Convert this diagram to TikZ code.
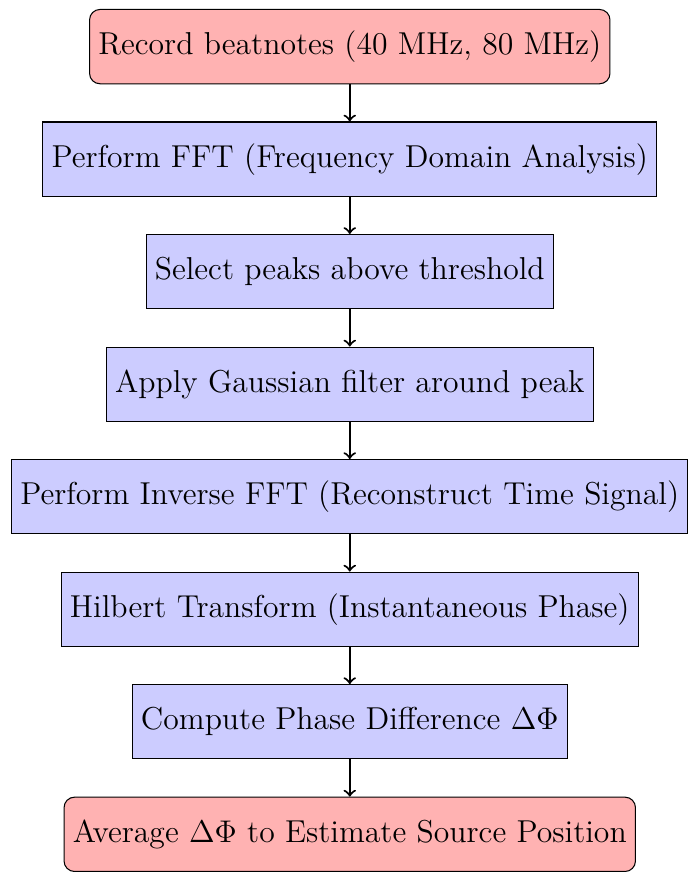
\documentclass[tikz,border=0pt]{standalone}
\usetikzlibrary{positioning}
\begin{document}
\begin{tikzpicture}[
  node distance=0.5cm,
  box/.style={draw, minimum height=1cm, font=\fontsize{12.13pt}{14.5pt}\selectfont, align=center},
  endbox/.style={box, rounded corners, fill=red!30},
  procbox/.style={box, fill=blue!20},
  arr/.style={->, thick}
]
\node[endbox] (n1) at (0,0) {Record beatnotes (40 MHz, 80 MHz)};
\node[procbox, below=of n1] (n2) {Perform FFT (Frequency Domain Analysis)};
\node[procbox, below=of n2] (n3) {Select peaks above threshold};
\node[procbox, below=of n3] (n4) {Apply Gaussian filter around peak};
\node[procbox, below=of n4] (n5) {Perform Inverse FFT (Reconstruct Time Signal)};
\node[procbox, below=of n5] (n6) {Hilbert Transform (Instantaneous Phase)};
\node[procbox, below=of n6] (n7) {Compute Phase Difference $\Delta\Phi$};
\node[endbox, below=of n7] (n8) {Average $\Delta\Phi$ to Estimate Source Position};
\foreach \a/\b in {n1/n2,n2/n3,n3/n4,n4/n5,n5/n6,n6/n7,n7/n8}
  \draw[arr] (\a) -- (\b);
\useasboundingbox ([shift={(-133.9pt,3.42pt)}]n1.north) rectangle ([shift={(125.5pt,2.6pt)}]n8.south);
\end{tikzpicture}
\end{document}
